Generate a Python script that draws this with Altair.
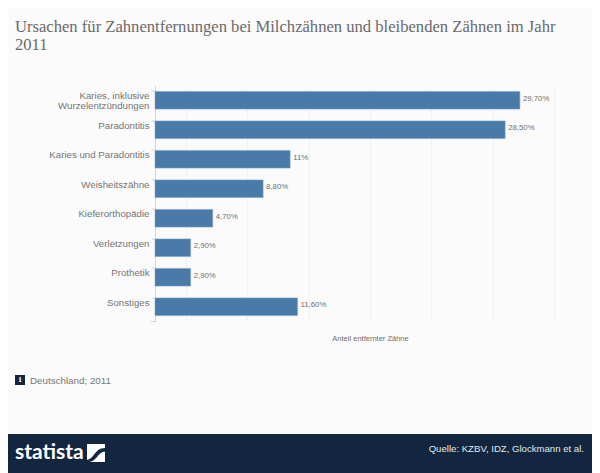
import altair as alt
import pandas as pd

categories = ["Karies, inklusive|Wurzelentzündungen", "Paradontitis", "Karies und Paradontitis",
              "Weisheitszähne", "Kieferorthopädie", "Verletzungen", "Prothetik", "Sonstiges"]
values = [29.7, 28.5, 11, 8.8, 4.7, 2.9, 2.9, 11.6]
value_labels = ["29,70%", "28,50%", "11%", "8,80%", "4,70%", "2,90%", "2,90%", "11,60%"]
title_lines = ["Ursachen für Zahnentfernungen bei Milchzähnen und bleibenden Zähnen im Jahr", "2011"]

PL, PT, W, H = 147, 77.5, 430, 236
TW, TH = 584, 465
df = pd.DataFrame({"c": categories, "v": values, "l": value_labels})

x = alt.X("v:Q", scale=alt.Scale(domain=[0, 35], nice=False),
          axis=alt.Axis(values=[i * 2.5 for i in range(1, 15)], labels=False, ticks=False,
                        domain=False, grid=True, gridColor="#e8e8e8", gridDash=[1, 1],
                        title="Anteil entfernter Zähne", titleFont="Liberation Sans", titleFontSize=7.5,
                        titleFontWeight="normal", titleColor="#707070", titlePadding=13))
y = alt.Y("c:N", sort=categories,
          scale=alt.Scale(paddingInner=0.4, paddingOuter=0.2),
          axis=alt.Axis(title=None, bandPosition=0, labelOffset=-4, labelExpr="split(datum.label,'|')",
                        labelFont="Liberation Sans", labelFontSize=9.7, labelColor="#757575",
                        labelLineHeight=10, labelPadding=2, tickSize=4, tickColor="#d5d5d5",
                        domainColor="#d5d5d5", grid=False, labelLimit=140))

bars = alt.Chart(df).mark_bar(color="#4a7aa8", stroke="#7ea6c6", strokeWidth=0.6).encode(x=x, y=y)
labels = alt.Chart(df).mark_text(align="left", baseline="middle", dx=3, dy=-1.5, font="Liberation Sans",
                                 fontSize=7.8, color="#707070").encode(x="v:Q", y=alt.Y("c:N", sort=categories), text="l:N")

one = pd.DataFrame({"a": [0]})
# helpers take positions in page pixels
def txt(t, px, py, **kw):
    return alt.Chart(one).mark_text(text=t, align=kw.pop("align", "left"), baseline="middle", **kw).encode(
        x=alt.value(px - 8 - PL), y=alt.value(py - 8 - PT))
def rect(x0, x1, y0, y1, color):
    return alt.Chart(one).mark_rect(color=color).encode(
        x=alt.value(x0 - 8 - PL), x2=alt.value(x1 - 8 - PL), y=alt.value(y0 - 8 - PT), y2=alt.value(y1 - 8 - PT))

TF = dict(font="Liberation Serif", fontSize=16.6, color="#6a6a6a")
NAVY = "#12273f"
SWOOSH = "M-1,0.75 C-0.2,0.75 -0.2,-0.55 1,-0.55 L1,-0.15 C0.1,-0.15 0.2,1 -1,1 Z"
logo_band = alt.Chart(one).mark_point(shape=SWOOSH, filled=True, color=NAVY, opacity=1, size=324).encode(
    x=alt.value(96 - 8 - PL), y=alt.value(453 - 8 - PT))
layers = [
    bars, labels,
    alt.Chart(one).mark_rule(color="#d5d5d5").encode(x=alt.value(-4), x2=alt.value(0), y=alt.value(H)),
    txt(title_lines[0], 15, 27, **TF),
    txt(title_lines[1], 15, 45, **TF),
    rect(15, 25, 375, 385, NAVY),
    txt("i", 20, 380, font="DejaVu Serif", fontSize=7, color="#ffffff", align="center", fontWeight="bold"),
    txt("Deutschland; 2011", 30, 381, font="Liberation Sans", fontSize=9.8, color="#777777"),
    rect(8, 592, 434, 473, NAVY),
    txt("statista", 15, 453, font="Lato", fontSize=21, color="#ffffff", fontWeight="bold"),
    rect(87, 105, 444, 462, "#ffffff"),
    logo_band,
    txt("Quelle: KZBV, IDZ, Glockmann et al.", 584, 449, font="Liberation Sans", fontSize=9.6,
        color="#e4e8ec", align="right"),
]

chart = alt.layer(*layers).properties(
    width=W, height=H, background="#fbfbfb",
    autosize=alt.AutoSizeParams(type="none"),
    padding={"left": PL, "top": PT, "right": TW - PL - W, "bottom": TH - PT - H},
).configure_view(stroke=None)

chart.save("out.html", embed_options={"renderer": "svg", "actions": False})
